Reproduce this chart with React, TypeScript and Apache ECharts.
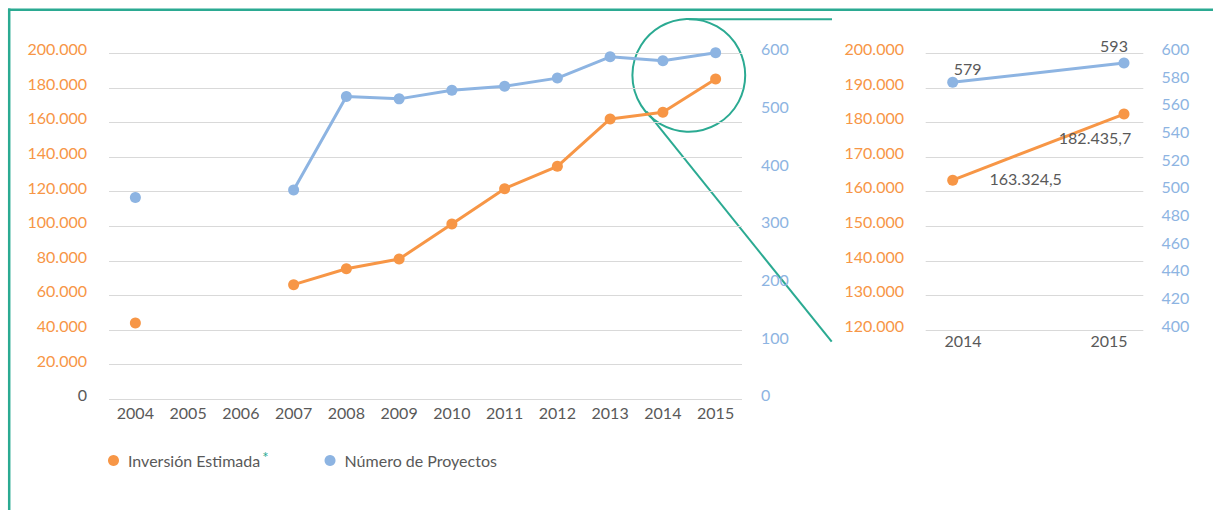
import React, { useEffect, useRef } from "react";
import * as echarts from "echarts";

// ---- data ----
const years = ["2004", "2005", "2006", "2007", "2008", "2009", "2010", "2011", "2012", "2013", "2014", "2015"];
const inversion = [41400, null, null, 63600, 72800, 78400, 98700, 119100, 132000, 159400, 163324.5, 182435.7];
const proyectos = [342, null, null, 355, 517, 513, 528, 535, 549, 586, 579, 593];
const insetYears = ["2014", "2015"];
const insetInversion = [163324.5, 182435.7];
const insetProyectos = [579, 593];
const legendNames = ["Inversión Estimada", "Número de Proyectos"];

const ORANGE = "#F79646";
const BLUE = "#8DB4E2";
const TEAL = "#2BAA92";
const GRAY = "#595959";
const GRID = "#D9D9D9";
const FONT = "Lato";
const FS = 16;

function fmt(v: number): string {
  const neg = v < 0;
  const a = Math.abs(v);
  let intPart = Math.floor(a);
  let dec = Math.round((a - intPart) * 10);
  if (dec === 10) { intPart += 1; dec = 0; }
  const s = String(intPart).replace(/\B(?=(\d{3})+(?!\d))/g, ".");
  const out = (a % 1 !== 0 ? s + "," + dec : s);
  return neg ? "-" + out : out;
}

export default function App() {
  const ref = useRef<HTMLDivElement>(null);
  useEffect(() => {
    if (!ref.current) return;
    const chart = echarts.init(ref.current, null, { renderer: "svg" });
    const hiddenAxis = { show: false };
    const insetLabelOffsets = {
      inv: [[73, -2], [-29, 23]],
      pro: [[15, -14], [-10, -17]],
    };
    const noLine = { axisLine: { show: false }, axisTick: { show: false } };
    const option: any = {
      animation: false,
      textStyle: { fontFamily: FONT },
      grid: [
        { left: 109, top: 53.3, width: 633, height: 346 },     // main gridlines + x labels
        { left: 109, top: 48.7, width: 633, height: 346 },     // main data + y labels
        { left: 925.7, top: 53.3, width: 217.6, height: 276.7 }, // inset gridlines
        { left: 952.7, top: 53.3, width: 171.3, height: 276.7 }, // inset data
        { left: 963, top: 48.5, width: 146, height: 276.7 },   // inset labels
      ],
      xAxis: [
        {
          gridIndex: 0, type: "category", data: years, boundaryGap: true, ...noLine,
          axisLabel: { color: GRAY, fontSize: FS, fontFamily: FONT, margin: 5 },
        },
        { gridIndex: 1, type: "category", data: years, boundaryGap: true, ...hiddenAxis },
        { gridIndex: 2, type: "category", data: insetYears, ...hiddenAxis },
        { gridIndex: 3, type: "category", data: insetYears, boundaryGap: false, ...hiddenAxis },
        {
          gridIndex: 4, type: "category", data: insetYears, boundaryGap: false, ...noLine,
          axisLabel: { color: GRAY, fontSize: FS, fontFamily: FONT, margin: 7.5 },
        },
      ],
      yAxis: [
        {
          gridIndex: 0, type: "value", min: 0, max: 200000, interval: 20000, ...noLine,
          axisLabel: { show: false },
          splitLine: { show: true, lineStyle: { color: GRID, width: 1 } },
        },
        {
          gridIndex: 1, type: "value", position: "left", min: 0, max: 200000, interval: 20000, ...noLine,
          splitLine: { show: false },
          axisLabel: {
            fontSize: FS, fontFamily: FONT, margin: 22,
            color: (v: any) => (Number(v) === 0 ? GRAY : ORANGE),
            formatter: (v: number) => fmt(v),
          },
        },
        {
          gridIndex: 1, type: "value", position: "right", min: 0, max: 600, interval: 100, ...noLine,
          splitLine: { show: false },
          axisLabel: { fontSize: FS, fontFamily: FONT, margin: 19, color: BLUE },
        },
        {
          gridIndex: 2, type: "value", min: 120000, max: 200000, interval: 10000, ...noLine,
          axisLabel: { show: false },
          splitLine: { show: true, lineStyle: { color: GRID, width: 1 } },
        },
        { gridIndex: 3, type: "value", min: 120000, max: 200000, ...hiddenAxis },
        { gridIndex: 3, type: "value", min: 400, max: 600, ...hiddenAxis },
        {
          gridIndex: 4, type: "value", position: "left", min: 120000, max: 200000, interval: 10000, ...noLine,
          splitLine: { show: false },
          axisLabel: { fontSize: FS, fontFamily: FONT, margin: 59, color: ORANGE, formatter: (v: number) => fmt(v) },
        },
        {
          gridIndex: 4, type: "value", position: "right", min: 400, max: 600, interval: 20, ...noLine,
          splitLine: { show: false },
          axisLabel: { fontSize: FS, fontFamily: FONT, margin: 52.5, color: BLUE },
        },
      ],
      legend: {
        data: legendNames,
        left: 108, top: 449, padding: 0,
        icon: "circle", itemWidth: 11, itemHeight: 11, itemGap: 56,
        formatter: (name: string) => (name === legendNames[0] ? name + "{a|*}" : name),
        textStyle: {
          color: GRAY, fontSize: FS, fontFamily: FONT, padding: [0, 0, 0, 4],
          rich: { a: { color: TEAL, fontSize: 15, verticalAlign: "top", padding: [0, 0, 8, 2] } },
        },
        selectedMode: false,
      },
      series: [
        {
          name: legendNames[0], type: "line", xAxisIndex: 1, yAxisIndex: 1, data: inversion,
          connectNulls: false, symbol: "circle", symbolSize: 11, color: ORANGE,
          lineStyle: { width: 3, color: ORANGE }, itemStyle: { color: ORANGE }, clip: false,
        },
        {
          name: legendNames[1], type: "line", xAxisIndex: 1, yAxisIndex: 2, data: proyectos,
          connectNulls: false, symbol: "circle", symbolSize: 11, color: BLUE,
          lineStyle: { width: 3, color: BLUE }, itemStyle: { color: BLUE }, clip: false,
        },
        {
          name: legendNames[0], type: "line", xAxisIndex: 3, yAxisIndex: 4,
          data: insetInversion.map((v, i) => ({
            value: v,
            label: {
              show: true, position: "inside", offset: insetLabelOffsets.inv[i],
              formatter: () => fmt(v), color: GRAY, fontSize: FS, fontFamily: FONT,
            },
          })),
          symbol: "circle", symbolSize: 11, color: ORANGE,
          lineStyle: { width: 3, color: ORANGE }, itemStyle: { color: ORANGE }, clip: false,
        },
        {
          name: legendNames[1], type: "line", xAxisIndex: 3, yAxisIndex: 5,
          data: insetProyectos.map((v, i) => ({
            value: v,
            label: {
              show: true, position: "inside", offset: insetLabelOffsets.pro[i],
              formatter: () => fmt(v), color: GRAY, fontSize: FS, fontFamily: FONT,
            },
          })),
          symbol: "circle", symbolSize: 11, color: BLUE,
          lineStyle: { width: 3, color: BLUE }, itemStyle: { color: BLUE }, clip: false,
        },
      ],
      graphic: [
        { type: "line", shape: { x1: 8, y1: 9.7, x2: 1213, y2: 9.7 }, style: { stroke: TEAL, lineWidth: 2.5 }, silent: true },
        { type: "line", shape: { x1: 9.2, y1: 8.5, x2: 9.2, y2: 510 }, style: { stroke: TEAL, lineWidth: 2.5 }, silent: true },
        { type: "circle", shape: { cx: 688.8, cy: 75.3, r: 56.4 }, style: { fill: "none", stroke: TEAL, lineWidth: 2 }, silent: true },
        { type: "line", shape: { x1: 688.8, y1: 19.2, x2: 832, y2: 19.2 }, style: { stroke: TEAL, lineWidth: 2 }, silent: true },
        { type: "line", shape: { x1: 646.7, y1: 111.7, x2: 831.7, y2: 341.7 }, style: { stroke: TEAL, lineWidth: 2 }, silent: true },
      ],
    };
    chart.setOption(option);
    return () => chart.dispose();
  }, []);
  return (
    <div
      ref={ref}
      style={{ position: "fixed", left: 0, top: 0, width: 1213, height: 510, background: "#fff" }}
    />
  );
}
